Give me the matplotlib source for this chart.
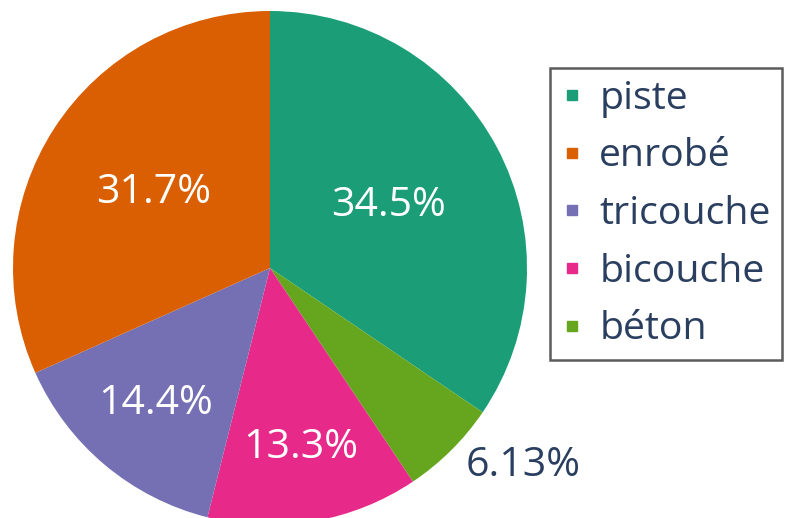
import matplotlib.pyplot as plt
from matplotlib.lines import Line2D
import numpy as np

plt.rcParams['font.family'] = ['Open Sans', 'DejaVu Sans']

# Données (ordre horaire à partir de midi)
categories = ['piste', 'béton', 'bicouche', 'tricouche', 'enrobé']
valeurs = [34.5, 6.13, 13.3, 14.4, 31.7]
couleurs = ['#1b9e77', '#66a61e', '#e7298a', '#7570b3', '#d95f02']
ordre_legende = ['piste', 'enrobé', 'tricouche', 'bicouche', 'béton']

texte = '#2a3f5f'
fs = 29.5
fs_leg = 28.3

fig = plt.figure(figsize=(7.86, 5.18), dpi=100)
# axe carré : centre du disque en (270, 268) px, rayon 257 px
ax = fig.add_axes([13/786, (518-525)/518, 514/786, 514/518])

wedges, _ = ax.pie(valeurs, colors=couleurs, startangle=90, counterclock=False,
                   radius=1, wedgeprops={'linewidth': 0})
ax.set_xlim(-1, 1)
ax.set_ylim(-1, 1)
ax.set_aspect('equal')
ax.axis('off')

# étiquettes
rayons = [0.52, None, 0.71, 0.69, 0.54]
for w, v, r in zip(wedges, valeurs, rayons):
    lab = '{:.3g}%'.format(v)
    if r is None:
        ang = np.deg2rad(-38)
        ax.text(1.25*np.cos(ang), 1.25*np.sin(ang), lab, color=texte,
                fontsize=fs, ha='center', va='center', clip_on=False)
    else:
        ang = np.deg2rad((w.theta1 + w.theta2)/2)
        ax.text(r*np.cos(ang), r*np.sin(ang), lab, color='white',
                fontsize=fs, ha='center', va='center')

# légende
handles = []
for nom in ordre_legende:
    c = couleurs[categories.index(nom)]
    handles.append(Line2D([], [], marker='s', linestyle='', markersize=7.5,
                          color=c, label=nom))
leg = fig.legend(handles=handles, loc='upper left',
                 bbox_to_anchor=(550/786, 1 - 68/518),
                 fontsize=fs_leg, frameon=True, fancybox=False,
                 edgecolor='#333333', labelcolor=texte,
                 handlelength=0.5, handletextpad=0.45, labelspacing=0.5,
                 borderpad=0.3, borderaxespad=0)
leg.get_frame().set_linewidth(1.8)

fig.savefig('out.png', dpi=100)
